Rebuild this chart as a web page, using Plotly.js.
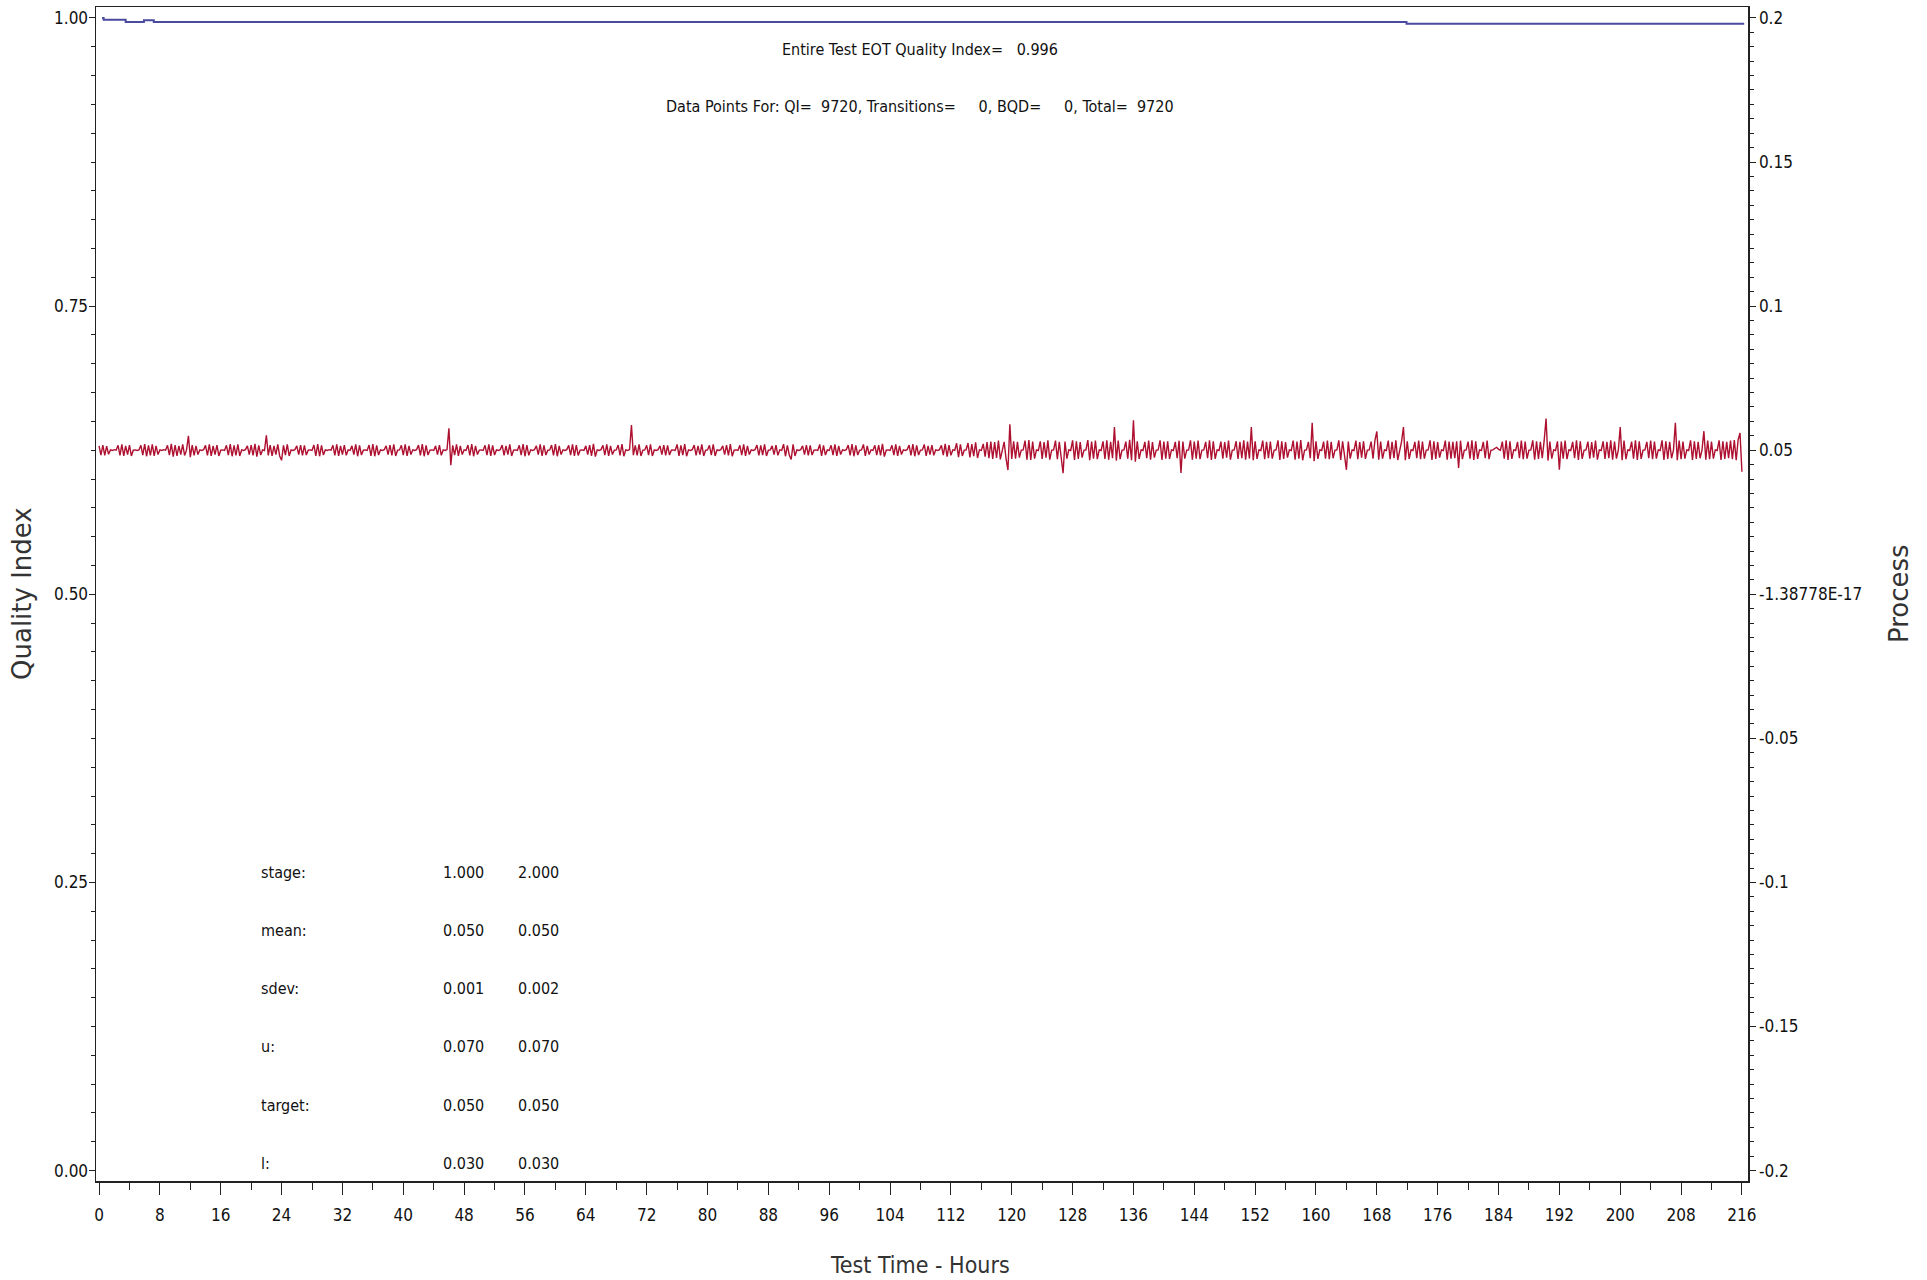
<!DOCTYPE html>
<html>
<head>
<meta charset="utf-8">
<script src="https://cdn.plot.ly/plotly-3.0.1.min.js"></script>
<style>html,body{margin:0;padding:0;background:#fff;}#chart{width:1927px;height:1280px;}</style>
</head>
<body>
<div id="chart"></div>
<script>
// ---------------- DATA ----------------
// Quality Index (left axis), step line
const qiHours  = [0.4, 0.6, 3.5, 5.9, 7.2, 171.9, 216.3];
const qiValues = [1.000, 0.9985, 0.9965, 0.998, 0.9965, 0.995, 0.995];

// Process values (right axis), read in 24-hour blocks (about 4 readings per hour)
const blockStartHours = [0, 24, 48, 72, 96, 120, 144, 168, 192];
const process_h000 = [
0.0515,0.0483,0.0518,0.0482,0.0514,0.0486,0.0501,0.0499,0.0502,0.0500,0.0517,0.0482,
0.0520,0.0480,0.0515,0.0485,0.0518,0.0480,0.0500,0.0501,0.0499,0.0501,0.0517,0.0483,
0.0521,0.0479,0.0517,0.0482,0.0520,0.0480,0.0515,0.0485,0.0501,0.0499,0.0502,0.0500,
0.0517,0.0483,0.0522,0.0478,0.0518,0.0480,0.0515,0.0485,0.0520,0.0482,0.0500,0.0550,
0.0476,0.0518,0.0482,0.0515,0.0485,0.0501,0.0499,0.0502,0.0517,0.0482,0.0520,0.0480,
0.0515,0.0485,0.0518,0.0480,0.0500,0.0501,0.0499,0.0517,0.0483,0.0521,0.0479,0.0517,
0.0482,0.0520,0.0480,0.0501,0.0499,0.0502,0.0515,0.0485,0.0518,0.0482,0.0522,0.0478,
0.0517,0.0483,0.0501,0.0499,0.0552,0.0482,0.0518,0.0480,0.0515,0.0485,0.0520,0.0480];
const process_h024 = [
0.0465,0.0517,0.0483,0.0520,0.0480,0.0501,0.0499,0.0502,0.0515,0.0485,0.0518,0.0482,
0.0517,0.0483,0.0500,0.0501,0.0499,0.0518,0.0480,0.0521,0.0479,0.0517,0.0483,0.0501,
0.0499,0.0502,0.0500,0.0517,0.0482,0.0520,0.0480,0.0515,0.0485,0.0518,0.0482,0.0501,
0.0499,0.0515,0.0485,0.0520,0.0479,0.0517,0.0483,0.0500,0.0501,0.0499,0.0518,0.0480,
0.0521,0.0479,0.0517,0.0483,0.0501,0.0499,0.0502,0.0515,0.0485,0.0518,0.0482,0.0520,
0.0480,0.0500,0.0501,0.0517,0.0483,0.0520,0.0480,0.0515,0.0485,0.0501,0.0499,0.0502,
0.0518,0.0482,0.0521,0.0479,0.0517,0.0483,0.0500,0.0501,0.0499,0.0515,0.0485,0.0518,
0.0482,0.0501,0.0499,0.0502,0.0576,0.0448,0.0517,0.0483,0.0520,0.0480,0.0515,0.0485];
const process_h048 = [
0.0501,0.0499,0.0518,0.0482,0.0521,0.0479,0.0515,0.0485,0.0500,0.0501,0.0499,0.0517,
0.0483,0.0520,0.0480,0.0517,0.0483,0.0501,0.0499,0.0502,0.0518,0.0482,0.0515,0.0485,
0.0520,0.0480,0.0500,0.0501,0.0499,0.0517,0.0483,0.0521,0.0479,0.0518,0.0482,0.0501,
0.0499,0.0502,0.0515,0.0485,0.0520,0.0480,0.0517,0.0483,0.0500,0.0501,0.0518,0.0482,
0.0521,0.0479,0.0515,0.0485,0.0501,0.0499,0.0502,0.0517,0.0483,0.0520,0.0480,0.0518,
0.0482,0.0500,0.0501,0.0499,0.0515,0.0485,0.0518,0.0480,0.0522,0.0478,0.0501,0.0499,
0.0502,0.0517,0.0483,0.0520,0.0480,0.0515,0.0485,0.0500,0.0501,0.0518,0.0482,0.0521,
0.0479,0.0501,0.0499,0.0502,0.0587,0.0483,0.0517,0.0482,0.0520,0.0480,0.0500,0.0501];
const process_h072 = [
0.0517,0.0483,0.0520,0.0480,0.0501,0.0499,0.0502,0.0515,0.0485,0.0518,0.0482,0.0517,
0.0483,0.0500,0.0501,0.0499,0.0520,0.0480,0.0517,0.0483,0.0521,0.0479,0.0501,0.0499,
0.0502,0.0518,0.0482,0.0515,0.0485,0.0520,0.0480,0.0500,0.0501,0.0517,0.0483,0.0520,
0.0480,0.0501,0.0499,0.0502,0.0515,0.0485,0.0518,0.0482,0.0521,0.0479,0.0500,0.0501,
0.0499,0.0517,0.0483,0.0520,0.0480,0.0515,0.0485,0.0501,0.0499,0.0502,0.0518,0.0482,
0.0517,0.0483,0.0520,0.0480,0.0500,0.0501,0.0515,0.0485,0.0518,0.0482,0.0501,0.0499,
0.0521,0.0479,0.0517,0.0483,0.0468,0.0520,0.0480,0.0501,0.0499,0.0502,0.0515,0.0485,
0.0518,0.0482,0.0517,0.0483,0.0500,0.0501,0.0499,0.0520,0.0480,0.0517,0.0483,0.0501];
const process_h096 = [
0.0499,0.0517,0.0483,0.0520,0.0480,0.0515,0.0485,0.0501,0.0499,0.0502,0.0518,0.0482,
0.0521,0.0479,0.0517,0.0483,0.0500,0.0501,0.0520,0.0480,0.0515,0.0485,0.0501,0.0499,
0.0517,0.0483,0.0518,0.0482,0.0522,0.0478,0.0500,0.0501,0.0499,0.0517,0.0483,0.0520,
0.0480,0.0515,0.0485,0.0501,0.0499,0.0502,0.0518,0.0482,0.0521,0.0479,0.0517,0.0483,
0.0500,0.0501,0.0520,0.0480,0.0515,0.0485,0.0518,0.0482,0.0501,0.0499,0.0502,0.0517,
0.0483,0.0522,0.0478,0.0518,0.0482,0.0501,0.0499,0.0524,0.0476,0.0520,0.0480,0.0500,
0.0501,0.0525,0.0475,0.0521,0.0479,0.0527,0.0473,0.0501,0.0499,0.0522,0.0478,0.0528,
0.0472,0.0530,0.0470,0.0528,0.0473,0.0533,0.0468,0.0501,0.0529,0.0471,0.0431,0.0590];
const process_h120 = [
0.0470,0.0531,0.0471,0.0529,0.0474,0.0500,0.0501,0.0533,0.0467,0.0535,0.0466,0.0530,
0.0471,0.0501,0.0499,0.0531,0.0470,0.0528,0.0474,0.0534,0.0467,0.0500,0.0501,0.0533,
0.0469,0.0529,0.0472,0.0420,0.0530,0.0471,0.0501,0.0499,0.0534,0.0466,0.0531,0.0470,
0.0528,0.0474,0.0500,0.0501,0.0535,0.0465,0.0530,0.0471,0.0533,0.0469,0.0501,0.0499,
0.0531,0.0470,0.0534,0.0467,0.0529,0.0472,0.0580,0.0464,0.0533,0.0469,0.0500,0.0501,
0.0530,0.0471,0.0536,0.0465,0.0604,0.0460,0.0531,0.0470,0.0501,0.0499,0.0529,0.0472,
0.0533,0.0467,0.0528,0.0474,0.0500,0.0501,0.0534,0.0466,0.0530,0.0471,0.0531,0.0470,
0.0501,0.0499,0.0529,0.0472,0.0533,0.0421,0.0530,0.0471,0.0500,0.0501,0.0534,0.0467];
const process_h144 = [
0.0530,0.0471,0.0533,0.0469,0.0500,0.0501,0.0529,0.0472,0.0534,0.0466,0.0531,0.0470,
0.0501,0.0499,0.0530,0.0471,0.0528,0.0474,0.0533,0.0467,0.0500,0.0501,0.0531,0.0470,
0.0529,0.0472,0.0534,0.0467,0.0530,0.0471,0.0580,0.0465,0.0531,0.0470,0.0501,0.0499,
0.0533,0.0469,0.0529,0.0472,0.0530,0.0471,0.0500,0.0501,0.0534,0.0466,0.0531,0.0470,
0.0528,0.0474,0.0501,0.0499,0.0533,0.0467,0.0530,0.0471,0.0535,0.0465,0.0500,0.0501,
0.0529,0.0472,0.0595,0.0462,0.0531,0.0470,0.0501,0.0499,0.0530,0.0471,0.0533,0.0469,
0.0529,0.0472,0.0500,0.0501,0.0534,0.0466,0.0531,0.0470,0.0432,0.0530,0.0471,0.0501,
0.0499,0.0533,0.0469,0.0528,0.0474,0.0531,0.0470,0.0500,0.0501,0.0530,0.0471,0.0534];
const process_h168 = [
0.0565,0.0467,0.0530,0.0471,0.0501,0.0499,0.0533,0.0469,0.0529,0.0472,0.0534,0.0466,
0.0500,0.0530,0.0580,0.0465,0.0531,0.0470,0.0501,0.0499,0.0529,0.0472,0.0533,0.0469,
0.0530,0.0471,0.0500,0.0501,0.0534,0.0466,0.0531,0.0470,0.0528,0.0474,0.0501,0.0499,
0.0533,0.0467,0.0530,0.0471,0.0529,0.0472,0.0531,0.0438,0.0533,0.0469,0.0500,0.0501,
0.0530,0.0471,0.0534,0.0466,0.0531,0.0470,0.0501,0.0499,0.0529,0.0472,0.0533,0.0469,
0.0500,0.0501,0.0506,0.0510,0.0503,0.0500,0.0530,0.0471,0.0534,0.0466,0.0531,0.0470,
0.0501,0.0499,0.0529,0.0472,0.0533,0.0469,0.0530,0.0471,0.0500,0.0501,0.0534,0.0467,
0.0531,0.0470,0.0529,0.0472,0.0533,0.0610,0.0464,0.0530,0.0471,0.0501,0.0499,0.0531];
const process_h192 = [
0.0432,0.0530,0.0471,0.0533,0.0469,0.0501,0.0499,0.0529,0.0472,0.0534,0.0466,0.0531,
0.0470,0.0500,0.0501,0.0530,0.0471,0.0528,0.0474,0.0533,0.0467,0.0501,0.0499,0.0531,
0.0470,0.0529,0.0472,0.0534,0.0467,0.0530,0.0471,0.0500,0.0580,0.0465,0.0533,0.0469,
0.0501,0.0499,0.0530,0.0471,0.0534,0.0466,0.0531,0.0470,0.0500,0.0501,0.0529,0.0472,
0.0533,0.0469,0.0530,0.0471,0.0501,0.0499,0.0534,0.0466,0.0531,0.0470,0.0529,0.0472,
0.0500,0.0595,0.0465,0.0533,0.0469,0.0530,0.0471,0.0501,0.0499,0.0534,0.0466,0.0531,
0.0470,0.0529,0.0472,0.0500,0.0566,0.0467,0.0533,0.0469,0.0530,0.0471,0.0501,0.0499,
0.0534,0.0466,0.0531,0.0470,0.0529,0.0472,0.0533,0.0469,0.0535,0.0465,0.0536,0.0560,0.0425];

// Tick labels
const xTickVals = [0,8,16,24,32,40,48,56,64,72,80,88,96,104,112,120,128,136,144,152,160,168,176,184,192,200,208,216];
const yTickVals = [0, 0.25, 0.5, 0.75, 1.0];
const yTickText = ['0.00','0.25','0.50','0.75','1.00'];
const y2TickVals = [0.2, 0.15, 0.1, 0.05, 0, -0.05, -0.1, -0.15, -0.2];
const y2TickText = ['0.2','0.15','0.1','0.05','-1.38778E-17','-0.05','-0.1','-0.15','-0.2'];

// Header texts
const headerLine1 = 'Entire Test EOT Quality Index=   0.996';
const headerLine2 = 'Data Points For: QI=  9720, Transitions=     0, BQD=     0, Total=  9720';

// Stage statistics table
const statLabels  = ['stage:','mean:','sdev:','u:','target:','l:'];
const stage1Stats = ['1.000','0.050','0.001','0.070','0.050','0.030'];
const stage2Stats = ['2.000','0.050','0.002','0.070','0.050','0.030'];

// ---------------- BUILD ----------------
const processBlocks = [process_h000,process_h024,process_h048,process_h072,process_h096,process_h120,process_h144,process_h168,process_h192];
const procX = [], procY = [];
processBlocks.forEach((vals, b) => {
  const last = b === processBlocks.length - 1;
  const step = 24 / (last ? vals.length - 1 : vals.length);
  vals.forEach((v, i) => { procX.push(blockStartHours[b] + i * step); procY.push(v); });
});

const W = 1927, H = 1280;
const PL = 96, PR = 1748, PT = 7, PB = 1181;
const px2x = p => (p - PL) / (PR - PL);
const px2y = p => (PB - p) / (PB - PT);
const nb = s => s.replace(/ /g, '\u00a0');

const narrow = "'Liberation Sans Narrow', 'DejaVu Sans Condensed', 'Arial Narrow', sans-serif";
const wide = "'DejaVu Sans', 'Noto Sans', sans-serif";

const yRange = [-0.009, 1.0095];
const y2Range = [0.4 * yRange[0] - 0.2, 0.4 * yRange[1] - 0.2];

const traces = [
  {x: procX, y: procY, type: 'scatter', mode: 'lines', yaxis: 'y2',
   line: {color: '#AE1030', width: 1.4}, hoverinfo: 'skip', showlegend: false},
  {x: qiHours, y: qiValues, type: 'scatter', mode: 'lines',
   line: {color: '#4A4AA0', width: 2, shape: 'hv'}, hoverinfo: 'skip', showlegend: false}
];

const txtFont = {family: narrow, size: 16, color: '#111'};
const annotations = [];
annotations.push({xref:'paper', yref:'paper', x: px2x(920), y: px2y(49), text: nb(headerLine1), showarrow:false,
  xanchor:'center', yanchor:'middle', font: txtFont});
annotations.push({xref:'paper', yref:'paper', x: px2x(920), y: px2y(107), text: nb(headerLine2), showarrow:false,
  xanchor:'center', yanchor:'middle', font: txtFont});
statLabels.forEach((lab, i) => {
  const yy = px2y(872 + i * 58.3);
  annotations.push({xref:'paper', yref:'paper', x: px2x(259), y: yy, text: lab, showarrow:false,
    xanchor:'left', yanchor:'middle', font: txtFont});
  annotations.push({xref:'paper', yref:'paper', x: px2x(486), y: yy, text: stage1Stats[i], showarrow:false,
    xanchor:'right', yanchor:'middle', font: txtFont});
  annotations.push({xref:'paper', yref:'paper', x: px2x(561), y: yy, text: stage2Stats[i], showarrow:false,
    xanchor:'right', yanchor:'middle', font: txtFont});
});
// axis titles
annotations.push({xref:'paper', yref:'paper', x: px2x(22), y: px2y(594), text:'Quality Index', textangle:-90, showarrow:false,
  xanchor:'center', yanchor:'middle', font:{family:wide, size:26, color:'#333'}});
annotations.push({xref:'paper', yref:'paper', x: px2x(1899), y: px2y(594), text:'Process', textangle:-90, showarrow:false,
  xanchor:'center', yanchor:'middle', font:{family:wide, size:26, color:'#333'}});
annotations.push({xref:'paper', yref:'paper', x: px2x(920), y: px2y(1265), text:'Test Time - Hours', showarrow:false,
  xanchor:'center', yanchor:'middle', font:{family:narrow, size:23, color:'#333'}});

const axisCommon = {showgrid:false, zeroline:false, showline:true, linecolor:'#222', linewidth:1.5,
  ticks:'outside', tickcolor:'#222', tickwidth:1, fixedrange:true};
const tickFont = {family: narrow, size: 17, color: '#111'};

const layout = {
  width: W, height: H,
  margin: {l: PL, r: W - PR, t: PT, b: H - PB, pad: 0},
  paper_bgcolor: '#fff', plot_bgcolor: '#fff',
  showlegend: false,
  xaxis: Object.assign({}, axisCommon, {
    range: [-0.4, 216.8], tickmode:'array', tickvals: xTickVals, ticktext: xTickVals.map(String),
    mirror: true, ticklen: 12, ticklabelstandoff: 6,
    minor: {tickmode:'linear', tick0: 4, dtick: 8, ticks:'outside', ticklen: 7, tickcolor:'#222'},
    tickfont: tickFont
  }),
  yaxis: Object.assign({}, axisCommon, {
    range: yRange, tickmode:'array', tickvals: yTickVals, ticktext: yTickText,
    ticklen: 6, ticklabelstandoff: -3,
    minor: {tickmode:'linear', tick0: 0, dtick: 0.025, ticks:'outside', ticklen: 4, tickcolor:'#222'},
    tickfont: tickFont
  }),
  yaxis2: Object.assign({}, axisCommon, {
    overlaying: 'y', side: 'right', range: y2Range,
    tickmode:'array', tickvals: y2TickVals, ticktext: y2TickText,
    ticklen: 6, ticklabelstandoff: 0,
    minor: {tickmode:'linear', tick0: 0, dtick: 0.005, ticks:'outside', ticklen: 4, tickcolor:'#222'},
    tickfont: tickFont
  }),
  annotations: annotations
};

Plotly.newPlot('chart', traces, layout, {displayModeBar: false, staticPlot: true});
</script>
</body>
</html>
